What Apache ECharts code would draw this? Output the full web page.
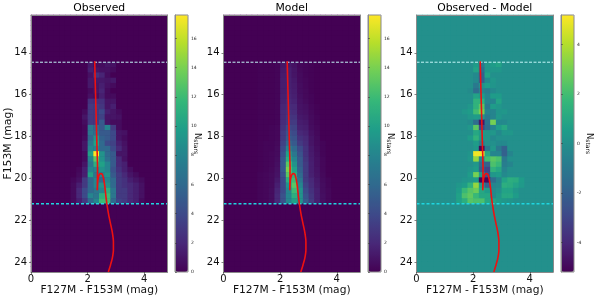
<!DOCTYPE html>
<html><head><meta charset="utf-8">
<style>html,body{margin:0;padding:0;background:#fff}#c{width:600px;height:300px}</style>
<script src="https://cdn.jsdelivr.net/npm/echarts@6/dist/echarts.min.js"></script>
</head><body><div id="c"></div>
<script>
const titles=['Observed','Model','Observed - Model'];
const xTicks=[0,2,4];
const yTicks=[14,16,18,20,22,24];
const cbTicksCount=[0,2,4,6,8,10,12,14,16];
const cbTicksDiff=[-4,-2,0,2,4];
const cutBright=14.45;
const cutFaint=21.2;
const isoColor=[2.25,2.27,2.29,2.31,2.33,2.35,2.34,2.36,2.40,2.46,2.52,2.57,2.61,2.65,2.69,2.74,2.80,2.87,2.91,2.91,2.87,2.81,2.73];
const isoMag=[14.4,15.5,16.5,17.5,18.5,19.5,20.55,20.1,19.85,19.76,19.8,20.05,20.4,20.9,21.3,21.7,22.1,22.55,23,23.4,23.8,24.1,24.45];
// value rows from magnitude 14.45 downward (0.25 mag each); columns from colour 1.2 (0.2 mag each)
const observedRows=[
[0,0,0,0,1.2,.6,.6,1,.8],
[0,0,0,0,1.5,1,.8,.8,.5],
[0,0,0,0,.8,2.5,1.8,.6],
[0,0,0,0,1.2,1.2,1.2,1,1.2],
[0,0,0,0,1.2,1,1.5,.8,.5],
[0,0,0,0,.5,1,1.8,.5],
[0,0,0,0,.8,.6,1.5,.5,.5],
[0,0,0,0,2.5,2.5,2.5,1,1],
[0,0,0,0,3,3,2.8,1,1.5],
[0,0,0,.5,3,3,4,1.5,1,.5],
[0,0,0,1,3,3,3.5,1,1,.8],
[0,0,0,.6,3,3,5,1,.5,.5],
[0,0,0,.3,7,6,5,8,3,.5],
[0,0,0,.3,7,6.5,5,5,4,1,.8],
[0,0,0,.5,6,9,5.5,5,4,1,.5],
[0,0,0,1,7,10,6,4,3.5,1.5,.8],
[0,0,0,1,8,8,6,6,4,2,1],
[0,0,0,.5,10,17.6,9,6,5,1,1],
[0,0,0,.5,8,13,9,6.5,5,2,.8],
[0,0,0,1,7,11,10,8,5,2,1.5],
[0,0,.3,1.5,8,8,9,8,4.5,2.5,1.5,.6],
[0,0,.5,1.5,10,7,8,9,5,3,2,1,.5],
[0,.3,.8,3,6,8,6,8,6,3,2.5,1.5,1,.5],
[0,.5,1.5,3,6,8,9,9,6,3,2.5,2,1.5,.8],
[0,.5,2,4,6,7,8,11,7,3,3,2,1.5,.8],
[0,.5,2,4,8,7,11,12,7,3,3,2,1.5,.8],
[0,.5,1.5,3,6,8,12,12,6,3.5,3,2,1.5,.5]];
const modelRows=[
[.1,.1,.1,.2,1,1.2,.8,.3,.2,.1],
[.1,.1,.1,.2,1.2,1.5,1,.4,.2,.1],
[.1,.1,.1,.2,1.3,1.5,1,.5,.2,.1],
[.1,.1,.1,.2,1.4,1.6,1.2,.5,.3,.1],
[.1,.1,.1,.2,1.4,1.6,1.3,.6,.3,.1],
[.1,.1,.1,.2,1.4,1.7,1.4,.6,.4,.1],
[.1,.1,.1,.2,1.5,1.8,1.5,.7,.4,.2],
[.1,.1,.1,.2,1.6,2,1.7,.8,.5,.2],
[.1,.1,.1,.2,1.8,2.2,2,.9,.7,.3,.1],
[.1,.1,.1,.2,2,2.5,2.2,1,.8,.4,.1],
[.1,.1,.1,.2,2,2.8,2.6,1.2,1,.5,.2],
[.1,.1,.1,.2,2.2,3,3,1.4,1.2,.5,.2],
[.1,.1,.2,.3,2.5,3.8,3.5,1.6,1.4,.6,.3],
[.1,.1,.2,.3,3,4.5,4,2,1.7,.8,.4],
[.1,.1,.2,.3,3,5,4.5,2.5,2,1,.5],
[.1,.2,.2,.4,3.5,6,5,3,2.2,1,.5,.2],
[.1,.2,.2,.5,4,8,6,4,2.5,1.2,.6,.2],
[.1,.2,.3,.5,4.5,10,7,4.5,2.5,1.3,.7,.2],
[.1,.2,.3,.6,5,11,8,5,2.7,1.4,.8,.3],
[.1,.2,.3,.7,5,13,9,5,3,1.5,.8,.3],
[.1,.2,.4,.8,5,14,10,5.5,3,1.5,.9,.3],
[.2,.3,.5,.9,4.5,13,11,6,3,1.6,1,.4],
[.2,.3,.5,1.2,4,11,12,7,3,2,1.2,.5,.2],
[.2,.3,.5,1.5,4,9,13,8,3.5,2.2,1.3,.6,.2],
[.2,.3,.6,1.8,4,8,12,9,4,2.5,1.5,.6,.3],
[.2,.3,.6,2,4.5,8,11,9,4.5,2.8,1.5,.7,.3],
[.2,.3,.6,2,4.5,8,10,9,5,3,1.5,.7,.3]];
const residualRows=[
[0,0,0,0,.5,-1,.3,.5,.8],
[0,0,0,0,.8,-1.5,.3,.3,.3],
[0,0,0,0,-.3,-2,.8],
[0,0,0,0,-.3,-2,-.3,.3],
[0,0,0,0,-1,0,.5,.2],
[0,0,0,-.2,-1.5,-.5,-.8,-.3],
[0,0,0,0,.8,.5,-.5,.5,.5],
[0,0,0,0,1.5,1.5,-.5,-.5,.8],
[0,0,0,.3,1.5,2.5,-1,.5,.3],
[0,0,.3,.5,2,3,-.5,-.5,.2,.3],
[0,0,0,.3,.5,.3,-1,-.5,.3],
[0,0,0,-.2,-1.5,-4.5,-1.2,3,-.3,-.3],
[0,0,0,.3,2.5,-3,-1.5,-.5,.5,1],
[0,0,0,0,1,.5,.3,.3,-.3,.3,.3],
[0,0,0,.5,1.5,.3,.3,-.3],
[0,0,0,0,.5,-.8,0,0,-.3,-.3],
[0,0,0,0,.3,-5,-1,.3,-1,-2],
[0,0,0,.2,5,5,1,-.5,-.5,-2,-.5],
[0,0,0,.3,3.5,-.5,2,2.5,2.2,-1],
[0,0,0,0,.3,-1.5,-2,2.2,1.8,-.8,-.5],
[0,0,0,.2,.5,-2,-3,1.5,1,-.5],
[0,0,0,.5,3,.5,-2.5,.3,.5,-.3],
[0,0,.2,.3,.5,-5,-5,-1.5,-.5,.8,1.3,1.2,.5],
[0,.3,.5,1.5,3.5,.5,-2,-.5,-.3,1.3,1.2,.8,.4],
[0,.5,1.8,2.4,2.8,1,.5,-.3,0,.8,.8,.3],
[0,.7,2.2,2.6,1.8,1,1,-.3,.3,1,1,.5],
[0,.7,1.3,2.4,2.2,2.2,1,.8,.5,.3,.2]];
const colourBins=Array.from({length:24},(_,i)=>(i*0.2).toFixed(1));
const magBins=Array.from({length:49},(_,i)=>(12.2+i*0.25).toFixed(2));
const firstCol=6, firstRow=9;

const viridis=['#440154','#482878','#3e4989','#31688e','#26828e','#1f9e89','#35b779','#6ece58','#b5de2b','#fde725'];
const F='"DejaVu Sans"';
const panelLeft=[31,223.5,416.5], cbLeft=[175,368,561];
const T=15,H=257,W=136.5;
const rowsSets=[observedRows,modelRows,residualRows];
const ranges=[[0,17.6],[0,17.6],[-5.2,5.2]];
const panelBack=['#440154','#440154','#21918c'];
const frame='#8a8a8a';

function cells(rows){
  const out=[];
  magBins.forEach((m,r)=>colourBins.forEach((c,k)=>{
    const row=rows[r-firstRow];
    const v=row&&row[k-firstCol]!==undefined?row[k-firstCol]:0;
    out.push([k,r,v]);
  }));
  return out;
}
const grid=[],xAxis=[],yAxis=[],series=[],visualMap=[],title=[];
panelLeft.forEach((L,i)=>{
  grid.push({left:L,top:T,width:W,height:H,show:true,backgroundColor:panelBack[i],borderWidth:0,containLabel:false,outerBoundsMode:'none'});
  title.push({text:titles[i],left:L+W/2,top:3,padding:0,textAlign:'center',textStyle:{fontFamily:F,fontSize:10.8,fontWeight:'normal',color:'#000'}});
  const line={show:true,onZero:false,lineStyle:{color:frame,width:1}};
  xAxis.push({gridIndex:i,type:'category',data:colourBins,position:'top',boundaryGap:true,z:10,axisLine:line,axisLabel:{show:false},axisTick:{show:false},splitLine:{show:false}});
  xAxis.push({gridIndex:i,type:'value',min:0,max:4.82,position:'bottom',z:10,axisLine:line,
    axisTick:{length:2,lineStyle:{color:'#333',width:.6},customValues:xTicks},
    axisLabel:{customValues:xTicks,fontFamily:F,fontSize:10,color:'#111',margin:2},splitLine:{show:false},
    name:'F127M - F153M (mag)',nameLocation:'middle',nameGap:13,nameMoveOverlap:false,nameTextStyle:{fontFamily:F,fontSize:10.7,color:'#111'}});
  yAxis.push({gridIndex:i,type:'category',data:magBins,inverse:true,position:'right',boundaryGap:true,z:10,axisLine:line,axisLabel:{show:false},axisTick:{show:false},splitLine:{show:false}});
  yAxis.push(Object.assign({gridIndex:i,type:'value',inverse:true,min:12.2,max:24.45,position:'left',z:10,axisLine:line,
    axisTick:{length:2,lineStyle:{color:'#333',width:.6},customValues:yTicks},
    axisLabel:{customValues:yTicks,fontFamily:F,fontSize:10,color:'#111',margin:4},splitLine:{show:false}},
    i===0?{name:'F153M (mag)',nameLocation:'middle',nameGap:17,nameMoveOverlap:false,nameTextStyle:{fontFamily:F,fontSize:10.8,color:'#111'}}:{}));
  const ax=2*i;
  series.push({type:'heatmap',xAxisIndex:ax,yAxisIndex:ax,data:cells(rowsSets[i]),progressive:0,animation:false,silent:true});
  [[cutBright,'#c4f6f8',1,[3,1.5]],[cutFaint,'#1fd6e0',1.5,[3,2]]].forEach(([y,c,w,d])=>{
    series.push({type:'line',xAxisIndex:ax+1,yAxisIndex:ax+1,data:[[0,y],[4.82,y]],symbol:'none',z:5,silent:true,animation:false,lineStyle:{color:c,width:w,type:d}});
  });
  series.push({type:'line',xAxisIndex:ax+1,yAxisIndex:ax+1,data:isoColor.map((c,k)=>[c,isoMag[k]]),symbol:'none',smooth:0.25,z:6,silent:true,animation:false,lineStyle:{color:'#ee1111',width:1.6}});
  visualMap.push({type:'continuous',seriesIndex:4*i,dimension:2,min:ranges[i][0],max:ranges[i][1],calculable:false,realtime:false,left:cbLeft[i],top:T,itemWidth:13,itemHeight:H,padding:0,text:null,showLabel:false,borderColor:'transparent',inRange:{color:viridis},silent:true,hoverLink:false});
});
cbLeft.forEach((L,i)=>{
  const g=3+i;
  grid.push({left:L,top:T,width:13,height:H,show:true,backgroundColor:'transparent',borderColor:frame,borderWidth:1,z:8,outerBoundsMode:'none'});
  xAxis.push({gridIndex:g,type:'value',min:0,max:1,show:false});
  const ticks=i===2?cbTicksDiff:cbTicksCount;
  yAxis.push({gridIndex:g,type:'value',min:ranges[i][0],max:ranges[i][1],position:'right',z:10,
    axisLine:{show:true,lineStyle:{color:frame}},
    axisTick:{length:2,lineStyle:{color:'#333',width:.5},customValues:ticks},
    axisLabel:{customValues:ticks,fontFamily:F,fontSize:4.5,color:'#222',margin:3},splitLine:{show:false},
    name:'{a|N}{b|stars}',nameLocation:'middle',nameRotate:-90,nameGap:i===2?11:5,nameMoveOverlap:false,
    nameTextStyle:{rich:{a:{fontFamily:F,fontSize:8.5,color:'#111'},b:{fontFamily:F,fontSize:6,color:'#111',verticalAlign:'bottom',padding:[3,0,0,0]}}}});
  series.push({type:'line',xAxisIndex:6+i,yAxisIndex:6+i,data:[],silent:true});
});
const chart=echarts.init(document.getElementById('c'),null,{renderer:'canvas',width:600,height:300});
chart.setOption({animation:false,backgroundColor:'#fff',title,grid,xAxis,yAxis,visualMap,series,tooltip:{show:false}});
</script></body></html>
